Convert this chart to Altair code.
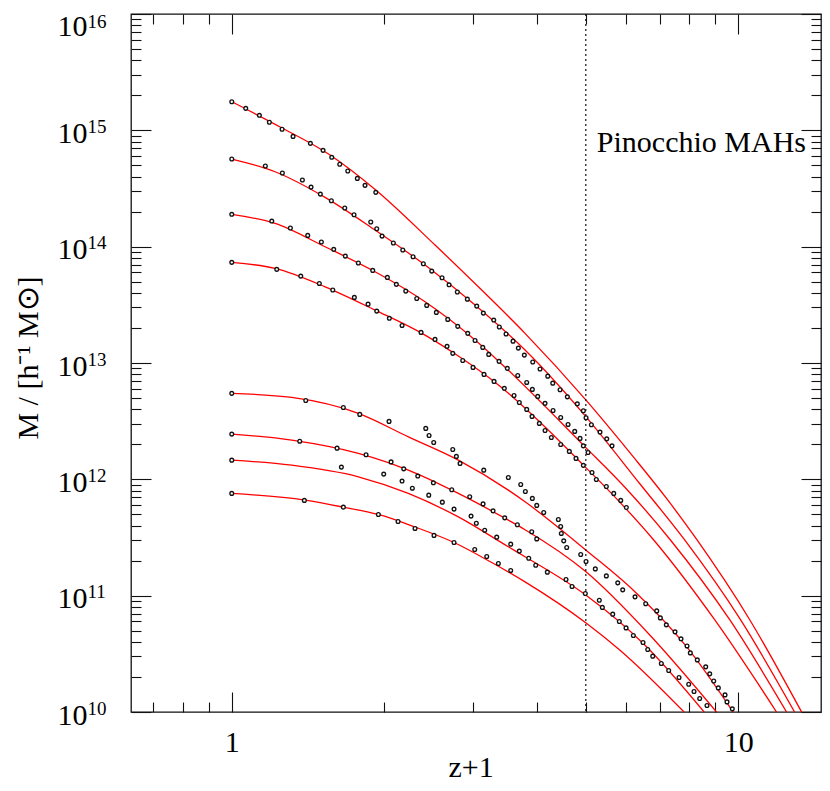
import altair as alt
import pandas as pd

# ------------------------------------------------------------------
# Data: log10(z+1) and log10(M / [h^-1 Msun])
# Red curves = fitted mass accretion histories, circles = Pinocchio MAHs
# ------------------------------------------------------------------
fit1_x = [0.0, 0.0993, 0.1940, 0.2843, 0.4013, 0.4868, 0.5790, 0.6994, 0.7928, 0.8587, 0.9179, 1.0231, 1.1252]
fit1_m = [15.246, 15.020, 14.788, 14.487, 14.014, 13.655, 13.255, 12.681, 12.193, 11.834, 11.483, 10.789, 9.998]
fit2_x = [0.0, 0.0855, 0.1842, 0.2829, 0.3816, 0.4803, 0.5790, 0.6994, 0.8060, 0.8934, 1.0034, 1.1114]
fit2_m = [14.753, 14.644, 14.424, 14.143, 13.842, 13.498, 13.111, 12.537, 11.960, 11.483, 10.800, 9.998]
fit3_x = [0.0, 0.0855, 0.1842, 0.2829, 0.3816, 0.4803, 0.5257, 0.6941, 0.7829, 0.8652, 0.9837, 1.0956]
fit3_m = [14.278, 14.200, 13.999, 13.784, 13.526, 13.197, 13.020, 12.294, 11.900, 11.483, 10.789, 9.998]
fit4_x = [0.0, 0.0855, 0.1842, 0.2829, 0.3816, 0.4473, 0.5296, 0.6185, 0.6941, 0.7434, 0.8322, 0.9540, 1.0758]
fit4_m = [13.865, 13.813, 13.655, 13.455, 13.240, 13.060, 12.800, 12.450, 12.122, 11.907, 11.483, 10.789, 9.998]
fit5_x = [0.0, 0.1184, 0.2499, 0.3486, 0.4473, 0.5460, 0.5790, 0.6994, 0.7928, 0.8982, 0.9902]
fit5_m = [12.739, 12.704, 12.567, 12.365, 12.165, 11.907, 11.807, 11.391, 11.047, 10.560, 9.998]
fit6_x = [0.0, 0.1184, 0.2499, 0.3486, 0.4473, 0.5460, 0.5790, 0.6994, 0.8257, 0.9574]
fit6_m = [12.389, 12.337, 12.223, 12.079, 11.879, 11.649, 11.567, 11.205, 10.660, 9.998]
fit7_x = [0.0, 0.1184, 0.2499, 0.3486, 0.4473, 0.5460, 0.5790, 0.6994, 0.8159, 0.9329]
fit7_m = [12.165, 12.122, 12.022, 11.879, 11.677, 11.420, 11.335, 11.004, 10.574, 9.998]
fit8_x = [0.0, 0.1447, 0.2203, 0.2894, 0.3618, 0.4388, 0.5132, 0.5790, 0.7008, 0.7665, 0.8934]
fit8_m = [11.879, 11.821, 11.761, 11.698, 11.590, 11.457, 11.285, 11.119, 10.761, 10.531, 9.998]

mah1_x = [0.0, 0.0276, 0.0545, 0.0742, 0.0993, 0.1210, 0.1552, 0.1802, 0.1974, 0.2132, 0.2290, 0.2479, 0.2631, 0.2843]
mah1_m = [15.246, 15.189, 15.129, 15.069, 15.009, 14.948, 14.888, 14.828, 14.768, 14.708, 14.650, 14.587, 14.527, 14.467]
mah2_x = [0.0, 0.0663, 0.0999, 0.1394, 0.1565, 0.1749, 0.1966, 0.2231, 0.2414, 0.2744, 0.2862, 0.2967, 0.3190, 0.3376,
          0.3579, 0.3782, 0.3948, 0.4151, 0.4290, 0.4453, 0.4651, 0.4836, 0.4967, 0.5172, 0.5282, 0.5415, 0.5553, 0.5658,
          0.5776, 0.5942, 0.6086, 0.6238, 0.6337, 0.6481, 0.6625, 0.6822, 0.6941, 0.6994, 0.7099, 0.7270, 0.7403, 0.7507]
mah2_m = [14.753, 14.693, 14.633, 14.573, 14.512, 14.452, 14.395, 14.332, 14.274, 14.212, 14.154, 14.091, 14.031, 13.971,
          13.913, 13.853, 13.790, 13.733, 13.672, 13.610, 13.549, 13.489, 13.429, 13.369, 13.309, 13.249, 13.188, 13.128,
          13.068, 13.008, 12.948, 12.887, 12.827, 12.770, 12.709, 12.649, 12.589, 12.529, 12.469, 12.406, 12.348, 12.288]
mah3_x = [0.0, 0.0790, 0.1157, 0.1500, 0.1769, 0.2013, 0.2242, 0.2499, 0.2783, 0.3072, 0.3249, 0.3435, 0.3652, 0.3849,
          0.4039, 0.4264, 0.4461, 0.4659, 0.4803, 0.4955, 0.5073, 0.5277, 0.5440, 0.5646, 0.5823, 0.5934, 0.6040, 0.6185,
          0.6343, 0.6494, 0.6639, 0.6771, 0.6876, 0.6941, 0.7034]
mah3_m = [14.278, 14.220, 14.160, 14.097, 14.040, 13.977, 13.919, 13.859, 13.796, 13.736, 13.676, 13.618, 13.555, 13.495,
          13.435, 13.375, 13.315, 13.255, 13.194, 13.134, 13.074, 13.014, 12.954, 12.893, 12.833, 12.773, 12.713, 12.653,
          12.592, 12.532, 12.472, 12.412, 12.352, 12.288, 12.231]
mah4_x = [0.0, 0.0888, 0.1362, 0.1729, 0.1994, 0.2420, 0.2691, 0.2862, 0.3111, 0.3362, 0.3737, 0.4013, 0.4250, 0.4363,
          0.4560, 0.4763, 0.4980, 0.5178, 0.5381, 0.5573, 0.5677, 0.5823, 0.5928, 0.6072, 0.6185, 0.6309, 0.6494, 0.6664,
          0.6796, 0.6941, 0.7112, 0.7197, 0.7395, 0.7541, 0.7679, 0.7790]
mah4_m = [13.865, 13.805, 13.747, 13.684, 13.627, 13.564, 13.506, 13.446, 13.384, 13.323, 13.263, 13.203, 13.143, 13.083,
          13.022, 12.962, 12.902, 12.842, 12.782, 12.721, 12.661, 12.601, 12.541, 12.481, 12.420, 12.360, 12.300, 12.240,
          12.180, 12.120, 12.059, 11.999, 11.939, 11.879, 11.819, 11.758]
mah5_x = [0.0, 0.1461, 0.2203, 0.2527, 0.3105, 0.3830, 0.3895, 0.3987, 0.4363, 0.4434, 0.4507, 0.4975, 0.5460, 0.5705,
          0.5796, 0.5934, 0.6021, 0.6159, 0.6447, 0.6494, 0.6506, 0.6554, 0.6613, 0.6889, 0.6994, 0.7177, 0.7395, 0.7620,
          0.7718, 0.7961, 0.8172, 0.8390, 0.8461, 0.8579, 0.8751, 0.8869, 0.8988, 0.9053, 0.9191, 0.9357, 0.9436, 0.9515,
          0.9606, 0.9738, 0.9777, 0.9882]
mah5_m = [12.739, 12.678, 12.618, 12.558, 12.498, 12.438, 12.377, 12.317, 12.257, 12.197, 12.137, 12.079, 12.016, 11.956,
          11.896, 11.836, 11.776, 11.715, 11.655, 11.595, 11.535, 11.471, 11.414, 11.354, 11.294, 11.230, 11.170, 11.110,
          11.050, 10.990, 10.930, 10.869, 10.809, 10.749, 10.689, 10.629, 10.568, 10.508, 10.448, 10.388, 10.328, 10.267,
          10.207, 10.147, 10.087, 10.027]
mah6_x = [0.0, 0.1342, 0.2079, 0.2651, 0.3145, 0.3395, 0.3672, 0.3980, 0.4343, 0.4698, 0.4961, 0.5158, 0.5389, 0.5638,
          0.5922, 0.6021]
mah6_m = [12.389, 12.328, 12.268, 12.211, 12.150, 12.090, 12.028, 11.970, 11.910, 11.850, 11.789, 11.729, 11.669, 11.609,
          11.549, 11.488]
mah7_x = [0.0, 0.2164, 0.3000, 0.3362, 0.3565, 0.3889, 0.4157, 0.4388, 0.4724, 0.4828, 0.4994, 0.5231, 0.5507, 0.5677,
          0.5863, 0.6001, 0.6230, 0.6599, 0.6718, 0.6980, 0.7256, 0.7316, 0.7521, 0.7651, 0.7784, 0.7928, 0.8119, 0.8212,
          0.8311, 0.8480, 0.8626, 0.8830, 0.9021, 0.9126, 0.9238, 0.9382]
mah7_m = [12.165, 12.105, 12.045, 11.985, 11.924, 11.864, 11.804, 11.744, 11.684, 11.623, 11.563, 11.503, 11.443, 11.383,
          11.322, 11.262, 11.202, 11.139, 11.079, 11.019, 10.961, 10.899, 10.841, 10.778, 10.723, 10.658, 10.598, 10.537,
          10.480, 10.417, 10.357, 10.297, 10.239, 10.176, 10.116, 10.056]
mah8_x = [0.0, 0.1433, 0.2203, 0.2894, 0.3283, 0.3618, 0.3993, 0.4388, 0.4797, 0.5034, 0.5263, 0.5507]
mah8_m = [11.879, 11.819, 11.761, 11.698, 11.638, 11.578, 11.518, 11.457, 11.397, 11.337, 11.277, 11.217]

# vertical reference line (z = 4)
vline_zp1 = [5.0]

# axis ticks / labels
x_major = [1, 10]
x_minor = [0.7, 0.8, 0.9, 2, 3, 4, 5, 6, 7, 8, 9]
y_major = [1e10, 1e11, 1e12, 1e13, 1e14, 1e15, 1e16]
y_minor = [m * 10 ** e for e in range(10, 16) for m in range(2, 10)]
x_title = "z+1"
y_title = "M / [h⁻¹ M⊙]"
annotation = ["Pinocchio MAHs"]

# ------------------------------------------------------------------
fits = [(fit1_x, fit1_m), (fit2_x, fit2_m), (fit3_x, fit3_m), (fit4_x, fit4_m),
        (fit5_x, fit5_m), (fit6_x, fit6_m), (fit7_x, fit7_m), (fit8_x, fit8_m)]
mahs = [(mah1_x, mah1_m), (mah2_x, mah2_m), (mah3_x, mah3_m), (mah4_x, mah4_m),
        (mah5_x, mah5_m), (mah6_x, mah6_m), (mah7_x, mah7_m), (mah8_x, mah8_m)]

fit_rows = []
for halo, (lx, lm) in enumerate(fits, start=1):
    for k, (a, b) in enumerate(zip(lx, lm)):
        fit_rows.append({"halo": halo, "k": k, "zp1": 10 ** a, "M": 10 ** b})
fit_df = pd.DataFrame(fit_rows)

mah_rows = []
for halo, (lx, lm) in enumerate(mahs, start=1):
    for a, b in zip(lx, lm):
        mah_rows.append({"halo": halo, "zp1": 10 ** a, "M": 10 ** b})
mah_df = pd.DataFrame(mah_rows)

FONT = "Liberation Serif"
INK = "#111111"
W, H = 690, 698

xscale = alt.Scale(type="log", domain=[0.6325, 14.564], nice=False, zero=False)
yscale = alt.Scale(type="log", domain=[1e10, 1e16], nice=False, zero=False)


def inward_ticks(side, values, size):
    """Tick-only axis drawn on `side`, with ticks pointing into the plot."""
    opposite = {"left": "right", "right": "left", "top": "bottom", "bottom": "top"}[side]
    offset = -W if side in ("left", "right") else -H
    return alt.Axis(orient=opposite, offset=offset, values=values, tickSize=size,
                    ticks=True, labels=False, domain=False, grid=False, title=None,
                    tickColor=INK, tickWidth=1.1)


# bottom labels + title
x_main = alt.Axis(orient="bottom", values=x_major, format="d", ticks=False, tickSize=0,
                  domain=False, grid=False,
                  labelFont=FONT, labelFontSize=30, labelColor="black",
                  labelPadding=39, labelBaseline="alphabetic", labelFlush=False,
                  labelOverlap=False, title=x_title, titleFont=FONT, titleFontSize=30,
                  titleFontWeight="normal", titleColor="black", titleX=339.5, titleY=64,
                  titleBaseline="alphabetic", titleAlign="center")

# left "10" part of labels + title
y_main = alt.Axis(orient="left", values=y_major, labelExpr="'10'", ticks=False, tickSize=0,
                  domain=False, grid=False,
                  labelFont=FONT, labelFontSize=30, labelColor="black",
                  labelAlign="right", labelBaseline="alphabetic", labelPadding=44,
                  labelOffset={"condition": {"test": "datum.value >= 1e16", "value": 21}, "value": 12},
                  labelFlush=False, labelOverlap=False,
                  title=y_title, titleFont=FONT, titleFontSize=30, titleFontWeight="normal",
                  titleColor="black", titleX=-103, titleY=343.5, titleAngle=270,
                  titleBaseline="middle", titleAlign="center")

# left exponent labels
y_exp = alt.Axis(orient="left", values=y_major,
                 labelExpr="format(round(log(datum.value)/LN10), 'd')",
                 ticks=False, tickSize=0, domain=False, grid=False,
                 labelFont=FONT, labelFontSize=19, labelColor="black",
                 labelAlign="left", labelBaseline="alphabetic", labelPadding=44,
                 labelOffset={"condition": {"test": "datum.value >= 1e16", "value": 13}, "value": 2},
                 labelFlush=False, labelOverlap=False, title=None)

lines = alt.Chart(fit_df).mark_line(color="#ff0000", strokeWidth=1.3, interpolate="monotone", clip=True).encode(
    x=alt.X("zp1:Q", scale=xscale, axis=x_main),
    y=alt.Y("M:Q", scale=yscale, axis=y_main),
    detail="halo:N",
    order="k:Q",
)

vline = alt.Chart(pd.DataFrame({"zp1": vline_zp1})).mark_rule(
    color=INK, strokeWidth=1.2, strokeDash=[2, 3]).encode(
    x=alt.X("zp1:Q", scale=xscale, axis=inward_ticks("top", x_major, 20)),
)

points = alt.Chart(mah_df).mark_point(shape="circle", filled=True, fill="white", stroke=INK,
                                      strokeWidth=1.35, size=14, opacity=1, clip=True).encode(
    x=alt.X("zp1:Q", scale=xscale, axis=inward_ticks("bottom", x_minor, 10)),
    y=alt.Y("M:Q", scale=yscale, axis=y_exp),
)

carrier1 = alt.Chart(fit_df).mark_point(opacity=0, size=0).encode(
    x=alt.X("zp1:Q", scale=xscale, axis=inward_ticks("bottom", x_major, 20)),
    y=alt.Y("M:Q", scale=yscale, axis=inward_ticks("left", y_major, 20)),
)
carrier2 = alt.Chart(fit_df).mark_point(opacity=0, size=0).encode(
    x=alt.X("zp1:Q", scale=xscale, axis=inward_ticks("top", x_minor, 10)),
    y=alt.Y("M:Q", scale=yscale, axis=inward_ticks("left", y_minor, 10)),
)
carrier3 = alt.Chart(fit_df).mark_point(opacity=0, size=0).encode(
    x=alt.X("zp1:Q", scale=xscale, axis=None),
    y=alt.Y("M:Q", scale=yscale, axis=inward_ticks("right", y_major, 20)),
)
carrier4 = alt.Chart(fit_df).mark_point(opacity=0, size=0).encode(
    x=alt.X("zp1:Q", scale=xscale, axis=None),
    y=alt.Y("M:Q", scale=yscale, axis=inward_ticks("right", y_minor, 10)),
)

label = alt.Chart(pd.DataFrame({"t": annotation})).mark_text(
    align="right", baseline="alphabetic", font=FONT, fontSize=30, color="black").encode(
    x=alt.value(675), y=alt.value(138), text="t:N")

chart = alt.layer(lines, vline, points, carrier1, carrier2, carrier3, carrier4, label).resolve_scale(
    x="shared", y="shared").resolve_axis(x="independent", y="independent").properties(
    width=W, height=H,
    autosize=alt.AutoSizeParams(type="none"),
    padding={"left": 123, "top": 6, "right": 1, "bottom": 71},
    background="white",
).configure_view(stroke=INK, strokeWidth=1.3)

chart.save("out.html", embed_options={"renderer": "svg", "actions": False})
